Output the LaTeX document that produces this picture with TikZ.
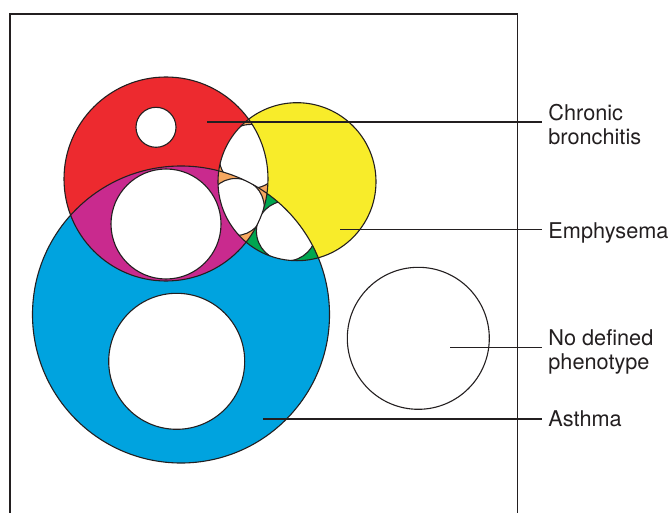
\documentclass[tikz,border=0pt]{standalone}
\usepackage{fontspec}
\setmainfont{TeX Gyre Heros}
\usetikzlibrary{calc}

\definecolor{ink}{RGB}{35,31,32}
\definecolor{cbred}{RGB}{237,42,47}
\definecolor{emyellow}{RGB}{248,236,42}
\definecolor{asblue}{RGB}{0,163,223}
\definecolor{cbasmag}{RGB}{201,42,142}
\definecolor{cbemorange}{RGB}{247,168,96}
\definecolor{emasgreen}{RGB}{0,166,80}

\newcommand{\cbpath}{(166,179) circle[radius=102pt]}
\newcommand{\empath}{(297,181.7) circle[radius=79pt]}
\newcommand{\aspath}{(181,314.5) circle[radius=148.5pt]}

\tikzset{
    ring/.style={draw=ink, line width=1.1pt},
    hole/.style={fill=white, draw=ink, line width=1.1pt},
    frame/.style={draw=ink, line width=1.3pt},
    lead/.style={draw=ink, line width=1.3pt},
    lbl/.style={anchor=base west, inner xsep=6.5pt, inner ysep=0pt,
        align=left, text=ink, font=\fontsize{21.7}{23.4}\selectfont}
}

\begin{document}
\begin{tikzpicture}[x=1pt,y=-1pt]
    \useasboundingbox (0,0) rectangle (671,513);

    % the three phenotypes and their overlaps
    \fill[asblue] \aspath;
    \fill[cbred] \cbpath;
    \fill[emyellow] \empath;
    \begin{scope}
        \clip \empath;
        \fill[emasgreen] \aspath;
    \end{scope}
    \begin{scope}
        \clip \cbpath;
        \fill[cbasmag] \aspath;
    \end{scope}
    \begin{scope}
        \clip \cbpath;
        \fill[cbemorange] \empath;
    \end{scope}

    % white subsets
    \filldraw[hole] (156,127.3) circle[radius=20pt];
    \filldraw[hole] (166,224) circle[radius=55pt];
    \filldraw[hole] (176.7,361.3) circle[radius=68pt];
    \begin{scope}[even odd rule]
        \clip \cbpath;
        \clip \empath;
        \clip (0,0) rectangle (671,513) \aspath;
        \filldraw[hole] (251,156.4) circle[radius=32pt];
    \end{scope}
    \begin{scope}
        \clip \cbpath;
        \clip \empath;
        \clip \aspath;
        \filldraw[hole] (235.7,207) circle[radius=28.5pt];
    \end{scope}
    \begin{scope}[even odd rule]
        \clip \empath;
        \clip \aspath;
        \clip (0,0) rectangle (671,513) \cbpath;
        \filldraw[hole] (286.4,231) circle[radius=30pt];
    \end{scope}

    \draw[ring] \cbpath \empath \aspath;
    \draw[ring] (418.3,338.3) circle[radius=71pt];

    % frame, open at the bottom
    \draw[frame] (10,513) |- (517.3,14) -- (517.3,513);

    % labels (base = last line)
    \node[lbl] (cb) at (541.7,144.4) {Chronic\\bronchitis};
    \node[lbl] (em) at (541.7,238) {Emphysema};
    \node[lbl] (nd) at (541.7,369.1) {No defined\\phenotype};
    \node[lbl] (as) at (541.7,426.7) {Asthma};

    \coordinate (cb-p) at (207,122);
    \coordinate (em-p) at (340,229.3);
    \coordinate (nd-p) at (450,347.7);
    \coordinate (as-p) at (263,419);
    \foreach \n in {cb,em,nd,as}
        \draw[lead] (\n-p) -- (\n-p -| \n.west);
\end{tikzpicture}
\end{document}
